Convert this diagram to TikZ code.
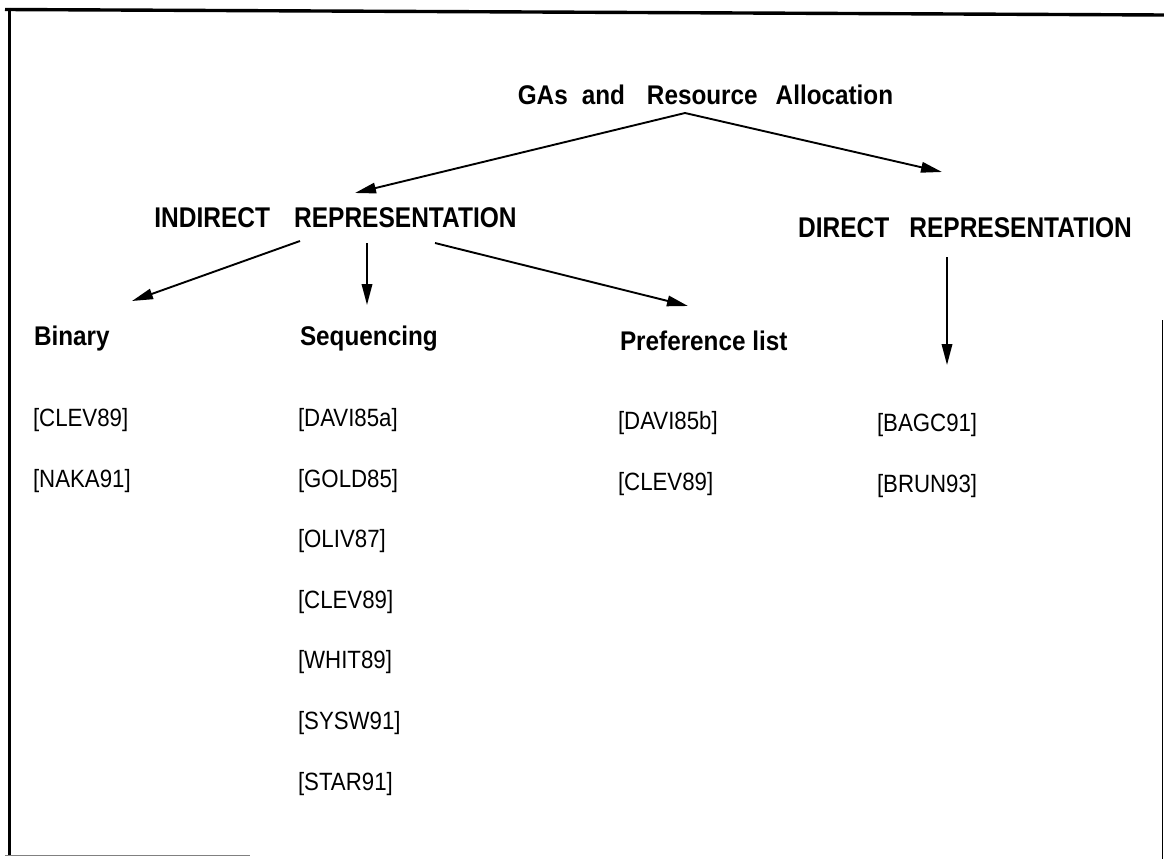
\documentclass[tikz,border=0pt]{standalone}
\usepackage{fontspec}
\setmainfont{Liberation Sans}
\newfontfamily\headfont{Liberation Sans}[FakeStretch=0.86]
\newfontfamily\subfont{Liberation Sans}[FakeStretch=0.9]
\newfontfamily\reffont{Liberation Sans}[FakeStretch=0.89]
\usetikzlibrary{arrows.meta,calc}
\begin{document}
\begin{tikzpicture}[x=1pt,y=-1pt,
  every node/.style={inner sep=0pt,outer sep=0pt},
  title/.style={font=\subfont\fontsize{27}{31}\selectfont\bfseries,anchor=base},
  head/.style={font=\headfont\fontsize{28.5}{33}\selectfont\bfseries,anchor=base},
  sub/.style={font=\subfont\fontsize{27}{31}\selectfont\bfseries,anchor=base west},
  ref/.style={font=\reffont\fontsize{25}{29}\selectfont,anchor=base west},
  arr/.style={line width=1.9pt,-{Triangle[length=21pt,width=10.5pt]}},
  frame/.style={line width=3.4pt}]
\useasboundingbox (0,0) rectangle (1164,859);
% outer frame: heavy top and left edges, light partial bottom and right edges
\draw[frame] (5,9.5) -- (1164,15);
\draw[frame] (9.5,8) -- (9.5,856);
\draw[line width=1pt,gray] (5,855) -- (250,855);
\draw[line width=1.5pt] (1162.5,320) -- (1162.5,859);

% headings
\node[title] (title) at (705.5,104) {GAs\hspace{14pt}and\hspace{22pt}Resource\hspace{18pt}Allocation};
\node[head] (indirect) at (335.5,227) {INDIRECT\hspace{24pt}REPRESENTATION};
\node[head] (direct) at (965,237) {DIRECT\hspace{20pt}REPRESENTATION};

\node[sub] (binary) at (34,345) {Binary};
\node[sub] (seq) at (300,345) {Sequencing};
\node[sub] (pref) at (620,350) {Preference list};

% reference lists
\node[ref] (b1) at (33,426) {[CLEV89]};
\node[ref] (b2) at (33,487) {[NAKA91]};

\node[ref] (s1) at (298,426) {[DAVI85a]};
\node[ref] (s2) at (298,487) {[GOLD85]};
\node[ref] (s3) at (298,547) {[OLIV87]};
\node[ref] (s4) at (298,608) {[CLEV89]};
\node[ref] (s5) at (298,668) {[WHIT89]};
\node[ref] (s6) at (298,729) {[SYSW91]};
\node[ref] (s7) at (298,790) {[STAR91]};

\node[ref] (p1) at (618,429) {[DAVI85b]};
\node[ref] (p2) at (618,490) {[CLEV89]};

\node[ref] (d1) at (877,431) {[BAGC91]};
\node[ref] (d2) at (877,492) {[BRUN93]};

% connectors
\draw[arr] ($(title.base)+(-20.5,9)$) -- ($(indirect.base)+(19.5,-34)$);
\draw[arr] ($(title.base)+(-20.5,9)$) -- ($(direct.base)+(-23,-65)$);
\draw[arr] ($(indirect.base)+(-35.5,14)$) -- ($(binary.base west)+(98,-44)$);
\draw[arr] ($(indirect.base)+(31.5,16)$) -- ($(seq.base west)+(67,-40)$);
\draw[arr] ($(indirect.base)+(99.5,16)$) -- ($(pref.base west)+(68,-44)$);
\draw[arr] ($(direct.base)+(-18,20)$) -- ($(d1.base west)+(70,-66)$);
\end{tikzpicture}
\end{document}
